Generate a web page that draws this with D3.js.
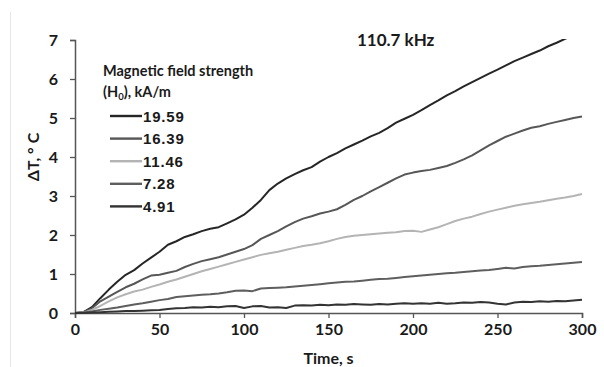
<!DOCTYPE html>
<html>
<head>
<meta charset="utf-8">
<script src="https://cdn.jsdelivr.net/npm/d3@7/dist/d3.min.js"></script>
<style>
  body { margin: 0; background: #fff; }
  text { font-family: Lato, "Open Sans", sans-serif; font-weight: bold; fill: #1a1a1a; }
</style>
</head>
<body>
<div id="chart"></div>
<script>
// time axis, sampled every 5 s
var times = d3.range(0, 301, 5);

// temperature rise (deg C) per field strength
var h1959 = [0,0.02,0.15,0.38,0.6,0.8,0.98,1.1,1.27,1.42,1.57,1.75,1.84,1.95,2.02,2.1,2.16,2.2,2.3,2.4,
  2.52,2.7,2.9,3.15,3.32,3.45,3.56,3.66,3.74,3.88,4.0,4.1,4.22,4.32,4.42,4.53,4.62,4.74,4.88,4.98,
  5.08,5.2,5.33,5.45,5.58,5.69,5.81,5.92,6.03,6.14,6.24,6.35,6.46,6.55,6.64,6.73,6.84,6.93,7.03,7.12,7.21];
var h1639 = [0,0.02,0.12,0.3,0.42,0.54,0.66,0.75,0.86,0.96,0.98,1.03,1.08,1.18,1.26,1.33,1.38,1.43,1.5,1.57,
  1.64,1.74,1.9,2.0,2.1,2.22,2.33,2.42,2.48,2.55,2.6,2.66,2.77,2.9,3.0,3.12,3.23,3.34,3.45,3.55,
  3.6,3.64,3.67,3.72,3.77,3.85,3.94,4.04,4.17,4.3,4.41,4.52,4.6,4.68,4.75,4.79,4.85,4.9,4.95,5.0,5.04];
var h1146 = [0,0.01,0.08,0.18,0.3,0.4,0.48,0.55,0.6,0.67,0.73,0.8,0.86,0.93,1.0,1.07,1.13,1.19,1.25,1.31,
  1.37,1.43,1.49,1.53,1.57,1.62,1.67,1.72,1.75,1.79,1.84,1.9,1.95,1.98,2.0,2.02,2.04,2.06,2.07,2.1,
  2.11,2.08,2.14,2.2,2.28,2.36,2.42,2.47,2.54,2.6,2.65,2.7,2.75,2.79,2.82,2.85,2.89,2.93,2.96,3.0,3.05];
var h728 = [0,0.01,0.04,0.08,0.11,0.14,0.18,0.22,0.25,0.29,0.33,0.36,0.41,0.43,0.45,0.47,0.48,0.5,0.53,0.57,
  0.58,0.56,0.63,0.64,0.65,0.66,0.68,0.7,0.72,0.74,0.76,0.78,0.8,0.81,0.83,0.85,0.87,0.88,0.9,0.92,
  0.94,0.96,0.98,1.0,1.02,1.03,1.05,1.07,1.09,1.1,1.13,1.16,1.14,1.18,1.2,1.21,1.23,1.25,1.27,1.29,1.31];
var h491 = [0,0,0.01,0.02,0.03,0.04,0.05,0.05,0.06,0.07,0.08,0.1,0.12,0.13,0.15,0.14,0.16,0.15,0.17,0.18,
  0.13,0.17,0.18,0.14,0.15,0.13,0.19,0.2,0.19,0.21,0.2,0.22,0.21,0.23,0.22,0.21,0.23,0.22,0.24,0.25,
  0.24,0.25,0.24,0.26,0.24,0.25,0.27,0.26,0.28,0.27,0.24,0.22,0.27,0.29,0.28,0.3,0.29,0.31,0.3,0.32,0.34];

var seriesNames = ["19.59", "16.39", "11.46", "7.28", "4.91"];
var seriesValues = [h1959, h1639, h1146, h728, h491];
var seriesColors = ["#262626", "#575757", "#b4b4b4", "#5e5e5e", "#333333"];

var xTicks = [0, 50, 100, 150, 200, 250, 300];
var yTicks = [0, 1, 2, 3, 4, 5, 6, 7];

var W = 604, H = 367;
var margin = {top: 40, right: 22, bottom: 54, left: 75};
var width = W - margin.left - margin.right,
    height = H - margin.top - margin.bottom;

var svg = d3.select("#chart").append("svg")
  .attr("width", W)
  .attr("height", H);

// faint border line on the left of the scan
svg.append("line")
  .attr("x1", 10.5).attr("x2", 10.5)
  .attr("y1", 12).attr("y2", H)
  .attr("stroke", "#e6e6e6").attr("stroke-width", 1);

var g = svg.append("g")
  .attr("transform", "translate(" + margin.left + "," + margin.top + ")");

var x = d3.scaleLinear().domain([0, 300]).range([0, width]);
var y = d3.scaleLinear().domain([0, 7]).range([height, 0]);

g.append("clipPath").attr("id", "plotclip")
  .append("rect").attr("x", 0).attr("y", -1).attr("width", width + 2).attr("height", height + 2);

// axes
var xAxis = g.append("g")
  .attr("transform", "translate(0," + height + ")")
  .call(d3.axisBottom(x).tickValues(xTicks).tickFormat(d3.format("d")).tickSize(5).tickPadding(6));
var yAxis = g.append("g")
  .call(d3.axisLeft(y).tickValues(yTicks).tickFormat(d3.format("d")).tickSize(5).tickPadding(12));

[xAxis, yAxis].forEach(function(a) {
  a.select(".domain").attr("stroke", "#555").attr("stroke-width", 1.5);
  a.selectAll(".tick line").attr("stroke", "#555").attr("stroke-width", 1.3);
  a.selectAll(".tick text")
    .style("font-family", "Lato, sans-serif")
    .style("font-weight", "bold")
    .style("font-size", "16px")
    .attr("fill", "#1a1a1a");
});

// lines
var line = d3.line()
  .x(function(d, i) { return x(times[i]); })
  .y(function(d) { return y(d); });

g.append("g").attr("clip-path", "url(#plotclip)")
  .selectAll("path")
  .data(seriesValues)
  .enter().append("path")
    .attr("d", line)
    .attr("fill", "none")
    .attr("stroke", function(d, i) { return seriesColors[i]; })
    .attr("stroke-width", 2)
    .attr("stroke-linejoin", "round");

// titles
svg.append("text")
  .attr("x", 357).attr("y", 46)
  .style("font-size", "17px")
  .text("110.7 kHz");

svg.append("text")
  .attr("x", margin.left + width / 2).attr("y", 364)
  .attr("text-anchor", "middle")
  .style("font-size", "16px")
  .text("Time, s");

svg.append("text")
  .attr("transform", "translate(39,157) rotate(-90)")
  .attr("text-anchor", "middle")
  .style("font-size", "16px")
  .text("ΔT, ° C");

// legend
var legend = svg.append("g");
legend.append("text")
  .attr("x", 103).attr("y", 76)
  .style("font-size", "14.5px")
  .text("Magnetic field strength");
var t2 = legend.append("text")
  .attr("x", 103).attr("y", 97)
  .style("font-size", "14.5px");
t2.append("tspan").text("(H");
t2.append("tspan").attr("dy", 3).style("font-size", "9.5px").text("0");
t2.append("tspan").attr("dy", -3).text("), kA/m");

var items = legend.selectAll(".item")
  .data(seriesNames)
  .enter().append("g")
    .attr("transform", function(d, i) { return "translate(110," + (116 + i * 22.6) + ")"; });
items.append("line")
  .attr("x1", 0).attr("x2", 32)
  .attr("stroke", function(d, i) { return seriesColors[i]; })
  .attr("stroke-width", 2.4);
items.append("text")
  .attr("x", 33).attr("y", 5.5)
  .style("font-family", "'Liberation Sans', Arial, sans-serif")
  .style("font-size", "15px")
  .style("letter-spacing", "0.8px")
  .text(function(d) { return d; });
</script>
</body>
</html>
